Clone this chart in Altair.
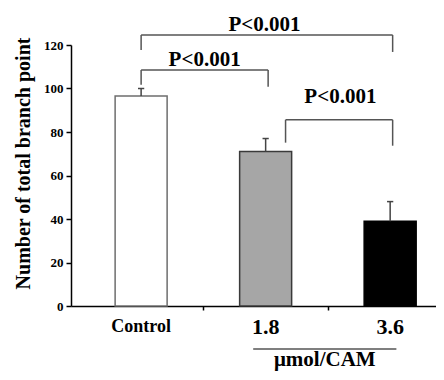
import altair as alt
import pandas as pd

# Data
groups = ["Control", "1.8", "3.6"]
means = [96.5, 71.0, 39.0]
errors = [3.5, 6.0, 9.0]
fills = ["#ffffff", "#a6a6a6", "#000000"]
strokes = ["#6e6e6e", "#3a3a3a", "#000000"]

# Significance brackets (left index, right index, bar level, left leg end, right leg end)
br_left = [0.0, 0.0, 1.16]
br_right = [1.02, 2.02, 2.02]
br_level = [108.5, 124.6, 85.6]
br_leg_l = [101.7, 117.7, 75.1]
br_leg_r = [100.8, 116.8, 73.7]
br_label = ["P<0.001", "P<0.001", "P<0.001"]
br_label_x = [0.51, 0.99, 1.60]
br_label_y = [113.3, 129.4, 95.9]

unit_label = "μmol/CAM"
unit_span = [0.90, 2.05]
y_ticks = [0, 20, 40, 60, 80, 100, 120]
axis_ticks = [0.5, 1.5]

FONT = "Liberation Serif"

bars = pd.DataFrame({
    "idx": list(range(len(groups))),
    "group": groups,
    "mean": means,
    "top": [m + e for m, e in zip(means, errors)],
    "fill": fills,
    "stroke": strokes,
    "fsize": [18, 22, 22],
})
bars["cap_l"] = bars["idx"] - 0.025
bars["cap_r"] = bars["idx"] + 0.025

brk = pd.DataFrame({
    "l": br_left, "r": br_right, "lev": br_level,
    "legl": br_leg_l, "legr": br_leg_r,
    "lab": br_label, "lx": br_label_x, "ly": br_label_y,
})

xs = alt.Scale(domain=[-0.523, 2.328], nice=False, zero=False)
ys = alt.Scale(domain=[0, 120], nice=False)

x_axis = alt.Axis(values=axis_ticks, labels=False, title=None, grid=False,
                  tickSize=4, domainColor="#000000", tickColor="#000000",
                  domainWidth=1.5, tickWidth=1.5)
y_axis = alt.Axis(values=y_ticks, title="Number of total branch point", grid=False,
                  tickSize=5, labelFont=FONT, labelFontWeight="bold", labelFontSize=13,
                  labelColor="#000000", labelPadding=3,
                  domainColor="#000000", tickColor="#000000", domainWidth=1.5, tickWidth=1.5,
                  titleFont=FONT, titleFontWeight="bold", titleFontSize=20, titleColor="#000000",
                  titleX=-48, titleY=118, titleAlign="center", titleBaseline="middle", titleAngle=-90)

base = alt.Chart(bars)

bar_layer = base.mark_bar(size=52, strokeWidth=1.5).encode(
    x=alt.X("idx:Q", scale=xs, axis=x_axis),
    y=alt.Y("mean:Q", scale=ys, axis=y_axis),
    fill=alt.Fill("fill:N", scale=None),
    stroke=alt.Stroke("stroke:N", scale=None),
)

err_layer = base.mark_rule(color="#444444", strokeWidth=1.5).encode(
    x="idx:Q", y="mean:Q", y2="top:Q"
)
cap_layer = base.mark_rule(color="#444444", strokeWidth=1.5).encode(
    x="cap_l:Q", x2="cap_r:Q", y="top:Q"
)

bc = alt.Chart(brk)
br_h = bc.mark_rule(color="#555555", strokeWidth=1.5).encode(x="l:Q", x2="r:Q", y="lev:Q")
br_vl = bc.mark_rule(color="#555555", strokeWidth=1.5).encode(x="l:Q", y="legl:Q", y2="lev:Q")
br_vr = bc.mark_rule(color="#555555", strokeWidth=1.5).encode(x="r:Q", y="legr:Q", y2="lev:Q")
br_t = bc.mark_text(font=FONT, fontWeight="bold", fontSize=21, color="#000000",
                    baseline="middle", align="center").encode(
    x="lx:Q", y="ly:Q", text="lab:N")

cat_text = base.mark_text(font=FONT, fontWeight="bold", color="#000000",
                          baseline="middle", align="center").encode(
    x="idx:Q", y=alt.value(282), text="group:N",
    size=alt.Size("fsize:Q", scale=None, legend=None),
)

unit_df = pd.DataFrame({"a": [unit_span[0]], "b": [unit_span[1]], "t": [unit_label],
                        "c": [(unit_span[0] + unit_span[1]) / 2]})
uc = alt.Chart(unit_df)
unit_line = uc.mark_rule(color="#000000", strokeWidth=1.2).encode(x="a:Q", x2="b:Q", y=alt.value(304))
unit_text = uc.mark_text(font=FONT, fontWeight="bold", fontSize=21, color="#000000",
                         baseline="middle", align="center").encode(
    x="c:Q", y=alt.value(315), text="t:N")

chart = alt.layer(
    bar_layer, err_layer, cap_layer, br_h, br_vl, br_vr, br_t, cat_text, unit_line, unit_text
).properties(
    width=365, height=261,
    autosize=alt.AutoSizeParams(type="none"),
    padding={"left": 63, "top": 37, "right": 0, "bottom": 66},
).configure_view(stroke=None)

chart.save("out.html", embed_options={"renderer": "svg", "actions": False})
